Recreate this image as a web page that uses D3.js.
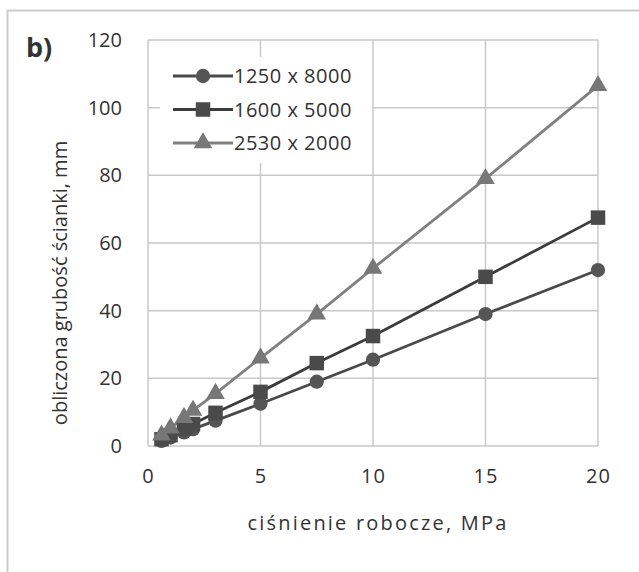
<!DOCTYPE html>
<html>
<head>
<meta charset="utf-8">
<script src="https://cdn.jsdelivr.net/npm/d3@7"></script>
<style>
  body { margin: 0; background: #fff; }
  svg text { font-family: "Open Sans", Lato, sans-serif; fill: #333; }
</style>
</head>
<body>
<script>
const w = 639;
const h = 572;
const padding = { top: 40, left: 148, right: 41, bottom: 126 };

// pressure, MPa
const pressure = [0.6, 1, 1.6, 2, 3, 5, 7.5, 10, 15, 20];
const seriesNames = ['1250 x 8000', '1600 x 5000', '2530 x 2000'];
const thick1250 = [1.5, 2.5, 4, 5, 7.5, 12.5, 19, 25.5, 39, 52];
const thick1600 = [2, 3.2, 5.2, 6.5, 9.8, 16, 24.5, 32.5, 50, 67.5];
const thick2530 = [3.2, 5.3, 8.4, 10.5, 15.5, 26, 39, 52.5, 79, 106.5];
const xTicks = [0, 5, 10, 15, 20];
const yTicks = [0, 20, 40, 60, 80, 100, 120];

const series = [
  { name: seriesNames[0], values: thick1250, line: '#4a4a4a', fill: '#555', shape: d3.symbolCircle, size: 160 },
  { name: seriesNames[1], values: thick1600, line: '#3c3c3c', fill: '#4a4a4a', shape: d3.symbolSquare, size: 210 },
  { name: seriesNames[2], values: thick2530, line: '#808080', fill: '#777', shape: d3.symbolTriangle, size: 150 }
];

const svg = d3.select('body').append('svg')
  .attr('width', w)
  .attr('height', h);

// outer frame
svg.append('rect')
  .attr('x', 7.5).attr('y', 10.5)
  .attr('width', w).attr('height', h)
  .attr('fill', 'none')
  .attr('stroke', '#ccc')
  .attr('stroke-width', 2);

const xScale = d3.scaleLinear().domain([0, 20]).range([padding.left, w - padding.right]);
const yScale = d3.scaleLinear().domain([0, 120]).range([h - padding.bottom, padding.top]);

// grid
svg.append('g')
  .selectAll('line')
  .data(yTicks)
  .enter()
  .append('line')
  .attr('x1', padding.left).attr('x2', w - padding.right)
  .attr('y1', d => yScale(d)).attr('y2', d => yScale(d))
  .attr('stroke', '#c8c8c8').attr('stroke-width', 1.5);

svg.append('g')
  .selectAll('line')
  .data(xTicks)
  .enter()
  .append('line')
  .attr('y1', padding.top).attr('y2', h - padding.bottom)
  .attr('x1', d => xScale(d)).attr('x2', d => xScale(d))
  .attr('stroke', '#c8c8c8').attr('stroke-width', 1.5);

// axes (labels only)
const xAxis = d3.axisBottom(xScale).tickValues(xTicks).tickSize(0).tickPadding(23);
const yAxis = d3.axisLeft(yScale).tickValues(yTicks).tickSize(0).tickPadding(26);

svg.append('g')
  .attr('transform', `translate(0, ${h - padding.bottom})`)
  .call(xAxis)
  .call(g => g.select('.domain').remove())
  .selectAll('text')
  .style('font-size', '20px')
  .style('letter-spacing', '1px')
  .attr('fill', '#333');

svg.append('g')
  .attr('transform', `translate(${padding.left}, 0)`)
  .call(yAxis)
  .call(g => g.select('.domain').remove())
  .selectAll('text')
  .style('font-size', '20px')
  .attr('fill', '#333');

// lines + markers
const line = d3.line()
  .x((d, i) => xScale(pressure[i]))
  .y(d => yScale(d));

series.forEach(s => {
  svg.append('path')
    .datum(s.values)
    .attr('d', line)
    .attr('fill', 'none')
    .attr('stroke', s.line)
    .attr('stroke-width', 2.8);
});

series.forEach(s => {
  svg.append('g')
    .selectAll('path')
    .data(s.values)
    .enter()
    .append('path')
    .attr('d', d3.symbol().type(s.shape).size(s.size))
    .attr('transform', (d, i) => `translate(${xScale(pressure[i])}, ${yScale(d)})`)
    .attr('fill', s.fill);
});

// legend
const legend = svg.append('g');
legend.append('rect')
  .attr('x', 160).attr('y', 57)
  .attr('width', 212).attr('height', 106)
  .attr('fill', '#fff');

const rows = legend.selectAll('g')
  .data(series)
  .enter()
  .append('g')
  .attr('transform', (d, i) => `translate(173, ${76 + i * 33.5})`);

rows.append('line')
  .attr('x1', 0).attr('x2', 60)
  .attr('stroke', d => d.line)
  .attr('stroke-width', 2.8);

rows.append('path')
  .attr('d', d => d3.symbol().type(d.shape).size(d.size)())
  .attr('transform', 'translate(30, 0)')
  .attr('fill', d => d.fill);

rows.append('text')
  .attr('x', 61)
  .attr('dy', '0.35em')
  .style('font-size', '20px')
  .style('letter-spacing', '0.5px')
  .text(d => d.name);

// titles
svg.append('text')
  .attr('x', 378)
  .attr('y', 530)
  .attr('text-anchor', 'middle')
  .style('font-size', '20px')
  .style('letter-spacing', '2.2px')
  .text('ciśnienie robocze, MPa');

svg.append('text')
  .attr('transform', 'translate(67, 283) rotate(-90)')
  .attr('text-anchor', 'middle')
  .style('font-size', '20px')
  .text('obliczona grubość ścianki, mm');

svg.append('text')
  .attr('x', 26)
  .attr('y', 57)
  .style('font-size', '27px')
  .style('font-weight', 'bold')
  .attr('fill', '#222')
  .text('b)');
</script>
</body>
</html>
